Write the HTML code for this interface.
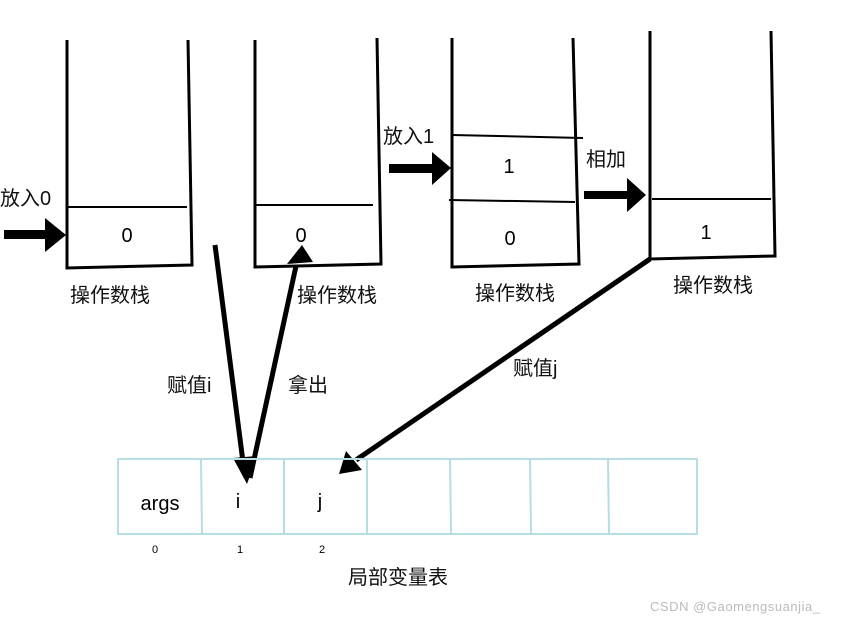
<!DOCTYPE html>
<html><head><meta charset="utf-8"><style>
html,body{margin:0;padding:0;background:#fff;width:842px;height:620px;overflow:hidden}
svg{display:block}
.c{font-family:"Liberation Sans","Noto Sans CJK SC",sans-serif;font-size:20px;fill:#111}
.n{font-family:"Liberation Sans",sans-serif;font-size:20px;fill:#000}
</style></head><body>
<svg width="842" height="620" viewBox="0 0 842 620" xmlns="http://www.w3.org/2000/svg">
<g fill="none" stroke="#000" stroke-width="3">
<path d="M67,40 L67,268 L192,265 L188,40"/>
<path d="M255,40 L255,267 L381,264 L377,38"/>
<path d="M452,38 L452,267 L579,264 L573,38"/>
<path d="M650,31 L650,259 L775,256 L771,31"/>
</g>
<g stroke="#000" stroke-width="2">
<line x1="68" y1="207" x2="187" y2="207"/>
<line x1="256" y1="205" x2="373" y2="205"/>
<line x1="452" y1="135" x2="583" y2="138"/>
<line x1="449" y1="200" x2="575" y2="202"/>
<line x1="652" y1="199" x2="771" y2="199"/>
</g>
<text class="n" x="127" y="242" text-anchor="middle">0</text>
<text class="n" x="301" y="242" text-anchor="middle">0</text>
<text class="n" x="509" y="173" text-anchor="middle">1</text>
<text class="n" x="510" y="245" text-anchor="middle">0</text>
<text class="n" x="706" y="239" text-anchor="middle">1</text>
<text class="c" x="110" y="302" text-anchor="middle">操作数栈</text>
<text class="c" x="337" y="302" text-anchor="middle">操作数栈</text>
<text class="c" x="515" y="300" text-anchor="middle">操作数栈</text>
<text class="c" x="713" y="292" text-anchor="middle">操作数栈</text>
<path d="M4,230 L45,230 L45,218 L66,235 L45,252 L45,239 L4,239 Z" fill="#000"/>
<path d="M389,164 L432,164 L432,152 L451,168 L432,185 L432,173 L389,173 Z" fill="#000"/>
<path d="M584,191 L627,191 L627,178 L646,195 L627,212 L627,199 L584,199 Z" fill="#000"/>
<text class="c" x="0" y="205">放入0</text>
<text class="c" x="383" y="143">放入1</text>
<text class="c" x="586" y="166">相加</text>
<g stroke="#000" stroke-width="5" fill="none">
<line x1="215" y1="245" x2="243" y2="462"/>
<line x1="250" y1="478" x2="296" y2="266"/>
<line x1="650" y1="259" x2="356" y2="460"/>
</g>
<path d="M233,458 L257,456 L247,484 Z" fill="#000"/>
<path d="M287,264 L313,262 L302,245 Z" fill="#000"/>
<path d="M346,451 L362,470 L339,474 Z" fill="#000"/>
<text class="c" x="167" y="392">赋值i</text>
<text class="c" x="288" y="392">拿出</text>
<text class="c" x="513" y="375">赋值j</text>
<g stroke="#b5dde2" stroke-width="2" fill="none">
<rect x="118" y="459" width="579" height="75"/>
<line x1="201" y1="459" x2="202" y2="534"/>
<line x1="284" y1="459" x2="284" y2="534"/>
<line x1="367" y1="459" x2="367" y2="534"/>
<line x1="450" y1="459" x2="451" y2="534"/>
<line x1="530" y1="459" x2="531" y2="534"/>
<line x1="608" y1="459" x2="609" y2="534"/>
</g>
<text class="n" x="160" y="510" text-anchor="middle">args</text>
<text class="n" x="238" y="508" text-anchor="middle">i</text>
<text class="n" x="320" y="508" text-anchor="middle">j</text>
<g font-family="Liberation Sans,sans-serif" font-size="11" fill="#000" text-anchor="middle">
<text x="155" y="553">0</text><text x="240" y="553">1</text><text x="322" y="553">2</text>
</g>
<text class="c" x="398" y="584" text-anchor="middle">局部变量表</text>
<text x="650" y="611" font-family="Liberation Sans,sans-serif" font-size="13" fill="#bbb" textLength="170">CSDN @Gaomengsuanjia_</text>
</svg>
</body></html>
